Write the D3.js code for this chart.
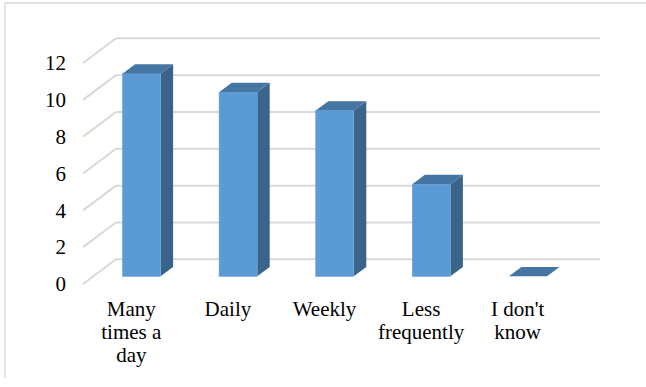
<!DOCTYPE html>
<html>
<head>
<meta charset="utf-8">
<script src="https://cdn.jsdelivr.net/npm/d3@7"></script>
<style>
  html, body { margin: 0; padding: 0; background: #fff; }
  svg { display: block; }
  svg text { font-family: "Liberation Serif", "Times New Roman", Times, serif; }
</style>
</head>
<body>
<svg id="chart" width="646" height="387"></svg>
<script>
// Frequency categories and response counts
const categories = ["Many times a day", "Daily", "Weekly", "Less frequently", "I don't know"];
const categoryLines = [["Many", "times a", "day"], ["Daily"], ["Weekly"], ["Less", "frequently"], ["I don't", "know"]];
const counts = [11, 10, 9, 5, 0];
const yTicks = [0, 2, 4, 6, 8, 10, 12];

const svg = d3.select("#chart");
const FONT = '"Liberation Serif", "Times New Roman", Times, serif';

// Oblique 3D projection: depth 0 = back wall, depth 1 = front edge of the floor
const DEPTH_DX = -33, DEPTH_DY = 24.7;
const yBack = d3.scaleLinear().domain([0, 12]).range([259.3, 38.3]);
const xBack = d3.scaleBand().domain(categories).range([116, 599]).padding(0);
const proj = (x, v, d) => [x + DEPTH_DX * d, yBack(v) + DEPTH_DY * d];

// Chart area frame
svg.append("path")
  .attr("d", "M5,378 L5,3 L700,3")
  .attr("fill", "none")
  .attr("stroke", "#d9d9d9")
  .attr("stroke-width", 1.3);

// Back wall gridlines and side-wall diagonals
const grid = svg.append("g").attr("stroke", "#d9d9d9").attr("stroke-width", 2).attr("fill", "none");
yTicks.forEach(t => {
  const [bx, by] = proj(xBack.range()[0], t, 0);
  const [fx, fy] = proj(xBack.range()[0], t, 1);
  grid.append("line").attr("x1", bx).attr("y1", by).attr("x2", xBack.range()[1] + 1).attr("y2", by);
  grid.append("line").attr("x1", fx).attr("y1", fy).attr("x2", bx).attr("y2", by);
});

// Y axis labels at the front edge
const yFront = d3.scaleLinear().domain(yBack.domain()).range(yBack.range().map(r => r + DEPTH_DY));
const yAxis = svg.append("g")
  .attr("transform", "translate(66,0)")
  .call(d3.axisLeft(yFront).tickValues(yTicks).tickSize(0).tickPadding(0).tickFormat(d3.format("d")));
yAxis.attr("font-family", null);
yAxis.select(".domain").remove();
yAxis.selectAll("text")
  .style("font-family", FONT)
  .style("font-size", "21px")
  .attr("fill", "#000");

// 3D columns
const D_FRONT = 0.69, D_BACK = 0.31;
const barW = xBack.bandwidth() * 0.394;
const bars = svg.append("g");
categories.forEach((c, i) => {
  const v = counts[i];
  const cx = xBack(c) + xBack.bandwidth() / 2;
  const xl = cx - barW / 2, xr = cx + barW / 2;
  const fTL = proj(xl, v, D_FRONT), fTR = proj(xr, v, D_FRONT);
  const fBL = proj(xl, 0, D_FRONT), fBR = proj(xr, 0, D_FRONT);
  const bTL = proj(xl, v, D_BACK), bTR = proj(xr, v, D_BACK);
  const bBR = proj(xr, 0, D_BACK);
  const g = bars.append("g");
  // right side face
  g.append("polygon")
    .attr("points", [fTR, bTR, bBR, fBR].map(p => p.join(",")).join(" "))
    .attr("fill", "#3a6489");
  // front face
  g.append("rect")
    .attr("x", fTL[0]).attr("y", fTL[1])
    .attr("width", fTR[0] - fTL[0]).attr("height", fBL[1] - fTL[1])
    .attr("fill", "#5b9bd5")
    .attr("stroke", "#6aa6dc").attr("stroke-width", 0.6);
  // top face
  g.append("polygon")
    .attr("points", [fTL, fTR, bTR, bTL].map(p => p.join(",")).join(" "))
    .attr("fill", "#4475a3");
});

// Category labels at the front edge of the floor
const labels = svg.append("g")
  .style("font-family", FONT)
  .style("font-size", "21px")
  .attr("fill", "#000")
  .attr("text-anchor", "middle");
categories.forEach((c, i) => {
  const cx = xBack(c) + xBack.bandwidth() / 2 + DEPTH_DX;
  const t = labels.append("text").attr("x", cx).attr("y", 316);
  categoryLines[i].forEach((line, j) => {
    t.append("tspan").attr("x", cx).attr("dy", j === 0 ? 0 : 23).text(line);
  });
});
</script>
</body>
</html>
